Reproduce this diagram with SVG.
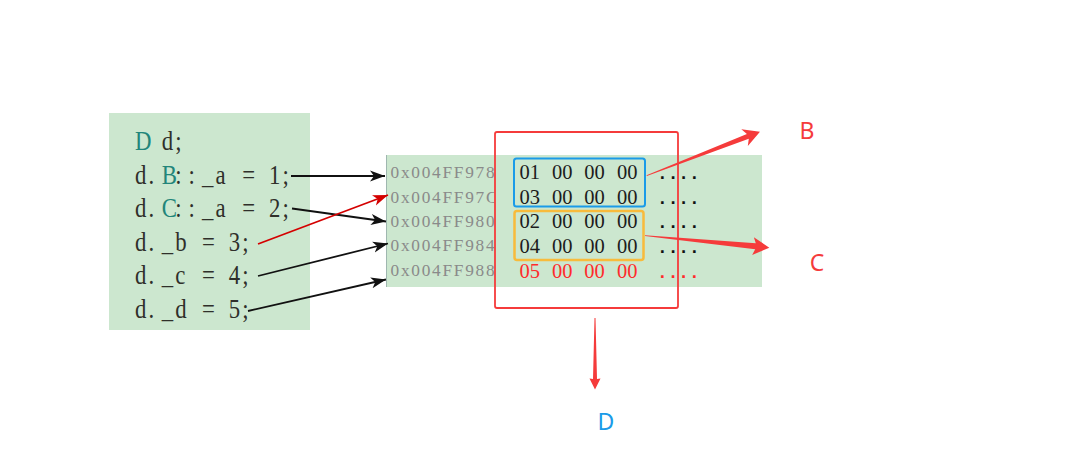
<svg xmlns="http://www.w3.org/2000/svg" width="1081" height="457" viewBox="0 0 1081 457">
<defs>
<style>
.panel{fill:#cce7cf}
.code{font-family:"Liberation Serif","DejaVu Serif",serif;font-size:26.8px;fill:#2f2f2a}
.kw{fill:#22857a}
.addr{font-family:"Liberation Serif","DejaVu Serif",serif;font-size:17.3px;letter-spacing:1.75px;fill:#8a8a8a}
.hex{font-family:"Liberation Serif","DejaVu Serif",serif;font-size:20.5px;fill:#1c1c1c}
.hexr{fill:#ff2b2b}
.dots{font-family:"Liberation Mono","DejaVu Sans Mono",monospace;font-size:17.8px;font-weight:bold;fill:#111}
.dotsr{fill:#ff2b2b}
.conn{stroke:#111;stroke-width:1.8;fill:none}
.connr{stroke:#d40000;stroke-width:1.8;fill:none}
.callout{fill:#f53b3b}
.lbl{font-family:"Noto Sans","Open Sans","Liberation Sans",sans-serif;font-size:23px;text-anchor:middle}
</style>
<marker id="ah" markerUnits="userSpaceOnUse" markerWidth="16" markerHeight="12" viewBox="0 0 16 12" refX="15" refY="6" orient="auto">
<path d="M0,0.5 L15,6 L0,11.5 L4,6 z" fill="#111"/>
</marker>
<marker id="ahr" markerUnits="userSpaceOnUse" markerWidth="16" markerHeight="12" viewBox="0 0 16 12" refX="15" refY="6" orient="auto">
<path d="M0,0.5 L15,6 L0,11.5 L4,6 z" fill="#d40000"/>
</marker>
<clipPath id="addrclip"><rect x="386" y="150" width="108.5" height="140"/></clipPath>
</defs>
<rect width="1081" height="457" fill="#ffffff"/>

<g id="code">
<rect class="panel" x="109" y="113" width="201" height="217"/>
<text class="code" transform="translate(135,150) scale(0.85,1)" x="0 15.765 31.53 47.29"><tspan class="kw">D </tspan>d;</text>
<text class="code" transform="translate(135,183.5) scale(0.85,1)" x="0 15.765 31.53 47.29 63.06 78.82 94.59 110.35 126.12 141.88 157.65 173.41">d.<tspan class="kw">B</tspan>::_a = 1;</text>
<text class="code" transform="translate(135,217) scale(0.85,1)" x="0 15.765 31.53 47.29 63.06 78.82 94.59 110.35 126.12 141.88 157.65 173.41">d.<tspan class="kw">C</tspan>::_a = 2;</text>
<text class="code" transform="translate(135,250.5) scale(0.85,1)" x="0 15.765 31.53 47.29 63.06 78.82 94.59 110.35 126.12">d._b = 3;</text>
<text class="code" transform="translate(135,284) scale(0.85,1)" x="0 15.765 31.53 47.29 63.06 78.82 94.59 110.35 126.12">d._c = 4;</text>
<text class="code" transform="translate(135,317.5) scale(0.85,1)" x="0 15.765 31.53 47.29 63.06 78.82 94.59 110.35 126.12">d._d = 5;</text>
</g>

<g id="memory">
<rect class="panel" x="386" y="155" width="376" height="132"/>
<line x1="386.5" y1="155" x2="386.5" y2="287" stroke="#9fb7b0" stroke-width="1"/>
<g clip-path="url(#addrclip)">
<text class="addr" x="390.5" y="178.3">0x004FF978</text>
<text class="addr" x="390.5" y="202.6">0x004FF97C</text>
<text class="addr" x="390.5" y="226.9">0x004FF980</text>
<text class="addr" x="390.5" y="251.2">0x004FF984</text>
<text class="addr" x="390.5" y="275.5">0x004FF988</text>
</g>
<text class="hex" y="179"><tspan x="519.5">01</tspan><tspan x="552">00</tspan><tspan x="584.3">00</tspan><tspan x="617">00</tspan></text>
<text class="hex" y="203.5"><tspan x="519.5">03</tspan><tspan x="552">00</tspan><tspan x="584.3">00</tspan><tspan x="617">00</tspan></text>
<text class="hex" y="228"><tspan x="519.5">02</tspan><tspan x="552">00</tspan><tspan x="584.3">00</tspan><tspan x="617">00</tspan></text>
<text class="hex" y="253"><tspan x="519.5">04</tspan><tspan x="552">00</tspan><tspan x="584.3">00</tspan><tspan x="617">00</tspan></text>
<text class="hex hexr" y="277.5"><tspan x="519.5">05</tspan><tspan x="552">00</tspan><tspan x="584.3">00</tspan><tspan x="617">00</tspan></text>
<text class="dots" x="657" y="178.7">....</text>
<text class="dots" x="657" y="203.8">....</text>
<text class="dots" x="657" y="228.3">....</text>
<text class="dots" x="657" y="253.3">....</text>
<text class="dots dotsr" x="657" y="278.3">....</text>
</g>

<g id="groupB"><rect x="514" y="158.5" width="131" height="48" rx="2.5" fill="none" stroke="#1a9be8" stroke-width="2"/></g>
<g id="groupC"><rect x="514.5" y="211" width="129" height="49" rx="2.5" fill="none" stroke="#f8bb3c" stroke-width="2.5"/></g>
<g id="groupD"><rect x="495" y="132" width="183" height="176" rx="2" fill="none" stroke="#f53b3b" stroke-width="1.8"/></g>

<g id="connectors">
<line class="conn" x1="291" y1="176" x2="385" y2="176" marker-end="url(#ah)"/>
<line class="conn" x1="292" y1="208.5" x2="386" y2="221.5" marker-end="url(#ah)"/>
<line class="connr" x1="258" y1="244" x2="388" y2="195" marker-end="url(#ahr)"/>
<line class="conn" x1="258" y1="276" x2="388" y2="243.5" marker-end="url(#ah)"/>
<line class="conn" x1="248" y1="311" x2="386" y2="279.5" marker-end="url(#ah)"/>
<polygon class="callout" transform="translate(646.7,175.7) rotate(-21.22)" points="0,-0.4 108.5,-2.6 105,-9 121.5,0 105,9 108.5,2.6 0,0.4"/>
<polygon class="callout" transform="translate(645,235.7) rotate(5.51)" points="0,-0.4 111,-3 108.5,-9 124.9,0 108.5,9 111,3 0,0.4"/>
<polygon class="callout" points="594.5,318 595.5,318 597,379 600.5,378.5 595,389.5 589.5,378.5 593,379"/>
</g>

<g id="labelB"><text class="lbl" x="807" y="139" fill="#f53b3b">B</text></g>
<g id="labelC"><text class="lbl" x="817" y="270.5" fill="#f53b3b">C</text></g>
<g id="labelD"><text class="lbl" x="606" y="430" fill="#1a9be8">D</text></g>
</svg>
